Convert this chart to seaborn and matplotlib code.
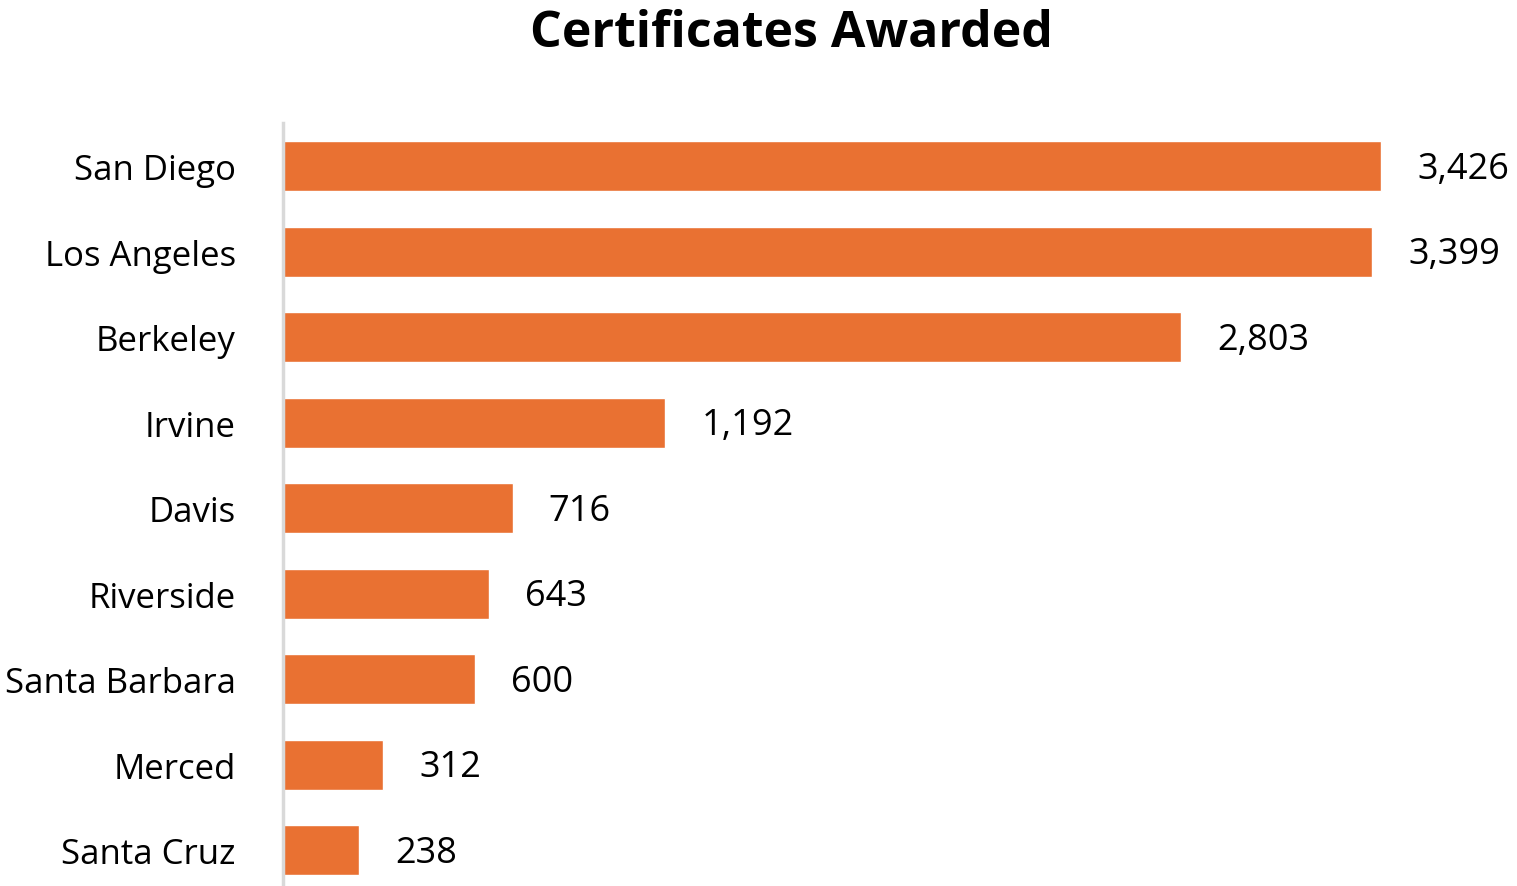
import matplotlib
matplotlib.use("Agg")
import matplotlib.pyplot as plt
import seaborn as sns
import pandas as pd

campuses = ["San Diego", "Los Angeles", "Berkeley", "Irvine", "Davis",
            "Riverside", "Santa Barbara", "Merced", "Santa Cruz"]
certificates = [3426, 3399, 2803, 1192, 716, 643, 600, 312, 238]
title = "Certificates Awarded"

df = pd.DataFrame({"campus": campuses, "certificates": certificates})

sns.set_theme(style="white")
plt.rcParams['font.family'] = ['Open Sans', 'DejaVu Sans']

fig = plt.figure(figsize=(15.17, 8.87), dpi=100)
ax = fig.add_axes([0.1866, 0.0, 0.8134, 0.8602])

sns.barplot(data=df, x="certificates", y="campus", orient="h",
            color="#E97132", saturation=1, width=0.585, ax=ax)

ax.set_xlim(0, 3850)
ax.set_ylim(8.42, -0.503)
ax.set_xlabel("")
ax.set_ylabel("")
ax.set_xticks([])
for s in ["top", "right", "bottom"]:
    ax.spines[s].set_visible(False)
ax.spines["left"].set_color("#D9D9D9")
ax.spines["left"].set_linewidth(2.5)
ax.tick_params(axis="y", length=0, pad=34, labelsize=25, labelcolor="black")

for i, v in enumerate(certificates):
    ax.annotate(f"{v:,}", xy=(v, i), xytext=(26, -2), textcoords="offset points",
                va="center", ha="left", fontsize=26, color="black")

fig.text(0.522, 0.947, title, ha="center", va="baseline",
         fontsize=36, fontweight="bold", color="black",
         family=["Open Sans", "DejaVu Sans"])

fig.savefig("out.png", dpi=100)
